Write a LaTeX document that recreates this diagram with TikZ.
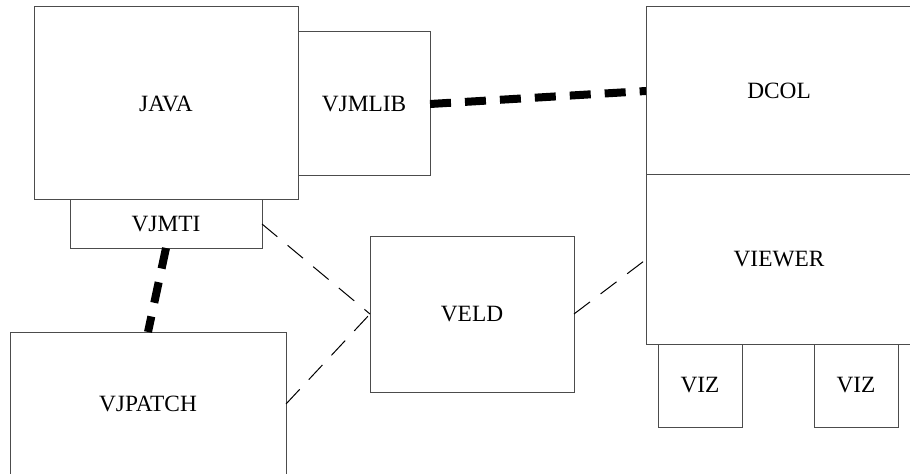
\documentclass[tikz,border=0pt]{standalone}
\usepackage{fontspec}
\setmainfont{Liberation Serif}
\usepackage{tikz}

\begin{document}
\begin{tikzpicture}[line cap=butt,line join=miter,x=0.75pt,y=-0.75pt,
  box/.style={draw=black!70,line width=0.75pt,outer sep=0pt,inner sep=0pt,
    font=\fontsize{17.5}{21}\selectfont},
  heavylink/.style={line width=6pt,dash pattern=on 15.75pt off 10.5pt},
  lightlink/.style={line width=0.75pt,dash pattern=on 15pt off 10pt}]
\useasboundingbox (0,0) rectangle (910,474);
\clip (0,0) rectangle (910,474);
% left group
\node[box,minimum width=198pt,minimum height=144.75pt] (java) at (166,103.5) {JAVA};
\node[box,minimum width=99pt,minimum height=108pt] (vjmlib) at (364,104) {VJMLIB};
\node[box,minimum width=144pt,minimum height=36pt] (vjmti) at (166,224) {VJMTI};
\node[box,minimum width=207pt,minimum height=108pt] (vjpatch) at (148,404) {VJPATCH};
% middle
\node[box,minimum width=153pt,minimum height=117pt] (veld) at (472,314) {VELD};
% right group
\node[box,minimum width=199.5pt,minimum height=126pt] (dcol) at (779,91) {DCOL};
\node[box,minimum width=199.5pt,minimum height=126.75pt] (viewer) at (779,259.5) {VIEWER};
\foreach \x/\n in {700/a,856/b}
\node[box,minimum width=63pt,minimum height=62.25pt] (viz\n) at (\x,385.5) {VIZ};
% links
\draw[heavylink] (vjmlib.east) -- (dcol.west);
\draw[heavylink] (vjmti.south) -- (vjpatch.north);
\draw[lightlink] (vjmti.east) -- (veld.west);
\draw[lightlink] (vjpatch.east) -- (veld.west);
\draw[lightlink] (veld.east) -- (viewer.west);
\end{tikzpicture}
\end{document}
